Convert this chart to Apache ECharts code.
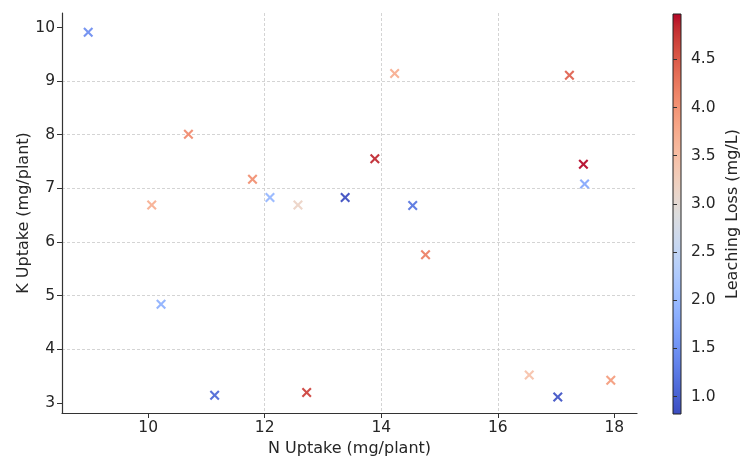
<!DOCTYPE html>
<html>
<head>
<meta charset="utf-8">
<script src="https://cdn.jsdelivr.net/npm/echarts@6/dist/echarts.min.js"></script>
<style>
html,body{margin:0;padding:0;background:#fff;}
#c{width:742px;height:463px;}
</style>
</head>
<body>
<div id="c"></div>
<script>
const nUptake = [8.97, 10.06, 10.22, 10.69, 11.14, 11.79, 12.09, 12.57, 12.72, 13.38, 13.89, 14.23, 14.54, 14.76, 16.54, 17.03, 17.23, 17.47, 17.49, 17.94];
const kUptake = [9.91, 6.69, 4.84, 8.01, 3.14, 7.17, 6.83, 6.69, 3.19, 6.83, 7.55, 9.14, 6.68, 5.76, 3.52, 3.11, 9.11, 7.45, 7.08, 3.42];
const leaching = [1.45, 3.70, 1.86, 4.10, 1.07, 4.05, 1.95, 3.15, 4.70, 0.82, 4.85, 3.72, 1.20, 4.20, 3.45, 0.88, 4.45, 4.97, 1.75, 3.92];

const xTicks = [10, 12, 14, 16, 18];
const yTicks = [3, 4, 5, 6, 7, 8, 9, 10];
const cTicks = [1.0, 1.5, 2.0, 2.5, 3.0, 3.5, 4.0, 4.5];
const xRange = [8.52, 18.39];
const yRange = [2.81, 10.27];
const cRange = [0.82, 4.97];

const coolwarm = ['#3b4cc0','#445acc','#4d68d7','#5775e1','#6282ea','#6c8ef1','#779af7','#82a5fb','#8db0fe','#98b9ff','#a3c2ff','#aec9fd','#b8d0f9','#c2d5f4','#ccd9ee','#d5dbe6','#dddddd','#e5d8d1','#ecd3c5','#f1ccb9','#f5c4ad','#f7bba0','#f7b194','#f7a687','#f49a7b','#f18d6f','#ec7f63','#e57058','#de604d','#d55042','#cb3e38','#c0282f','#b40426'];

const data = nUptake.map((x, i) => [x, kUptake[i], leaching[i]]);
const xPath = 'path://M1.5,0L5,3.5L8.5,0L10,1.5L6.5,5L10,8.5L8.5,10L5,6.5L1.5,10L0,8.5L3.5,5L0,1.5Z';
const font = 'DejaVu Sans';
const txt = '#262626';

const gradient = new echarts.graphic.LinearGradient(0, 1, 0, 0,
  coolwarm.map((c, i) => ({offset: i / (coolwarm.length - 1), color: c})));

const chart = echarts.init(document.getElementById('c'), null, {renderer: 'canvas'});
chart.setOption({
  animation: false,
  textStyle: {fontFamily: font},
  grid: [
    {left: 62, top: 13, width: 575, height: 400},
    {left: 673, top: 14, width: 20, height: 400, show: true, borderColor: '#222', borderWidth: 1, backgroundColor: gradient}
  ],
  xAxis: [{
    type: 'value', gridIndex: 0, min: xRange[0], max: xRange[1], splitNumber: 5,
    name: 'N Uptake (mg/plant)', nameLocation: 'middle', nameGap: 28, nameMoveOverlap: false,
    nameTextStyle: {fontSize: 16, color: txt, fontFamily: font},
    axisLine: {show: true, onZero: false, lineStyle: {color: '#333', width: 1.2}},
    axisTick: {show: true, length: 5, lineStyle: {color: '#333'}, customValues: xTicks},
    axisLabel: {fontSize: 15.5, color: txt, margin: 7, customValues: xTicks, fontFamily: font},
    splitLine: {show: true, showMinLine: false, showMaxLine: false, lineStyle: {color: '#cfcfcf', type: [3, 2], width: 0.9}}
  }, {
    type: 'value', gridIndex: 1, show: false, min: 0, max: 1
  }],
  yAxis: [{
    type: 'value', gridIndex: 0, min: yRange[0], max: yRange[1], splitNumber: 7,
    name: 'K Uptake (mg/plant)', nameLocation: 'middle', nameGap: 30, nameMoveOverlap: false,
    nameTextStyle: {fontSize: 16, color: txt, fontFamily: font},
    axisLine: {show: true, onZero: false, lineStyle: {color: '#333', width: 1.2}},
    axisTick: {show: true, length: 5, lineStyle: {color: '#333'}, customValues: yTicks},
    axisLabel: {fontSize: 15.5, color: txt, margin: 7, customValues: yTicks, fontFamily: font},
    splitLine: {show: true, showMinLine: false, showMaxLine: false, lineStyle: {color: '#cfcfcf', type: [3, 2], width: 0.9}}
  }, {
    type: 'value', gridIndex: 1, position: 'right', min: cRange[0], max: cRange[1],
    name: 'Leaching Loss (mg/L)', nameLocation: 'middle', nameGap: 44, nameRotate: 90, nameMoveOverlap: false,
    nameTextStyle: {fontSize: 16, color: txt, fontFamily: font},
    axisLine: {show: false},
    axisTick: {show: true, length: 4, lineStyle: {color: '#333'}, customValues: cTicks},
    axisLabel: {fontSize: 15.5, color: txt, margin: 10, customValues: cTicks, fontFamily: font, formatter: v => Number(v).toFixed(1)},
    splitLine: {show: false}
  }],
  visualMap: {
    type: 'continuous', seriesIndex: 0, dimension: 2, show: false,
    min: cRange[0], max: cRange[1],
    inRange: {color: coolwarm}
  },
  series: [{
    type: 'scatter', xAxisIndex: 0, yAxisIndex: 0,
    symbol: xPath, symbolSize: 10,
    itemStyle: {opacity: 0.92},
    data: data
  }]
});
</script>
</body>
</html>
